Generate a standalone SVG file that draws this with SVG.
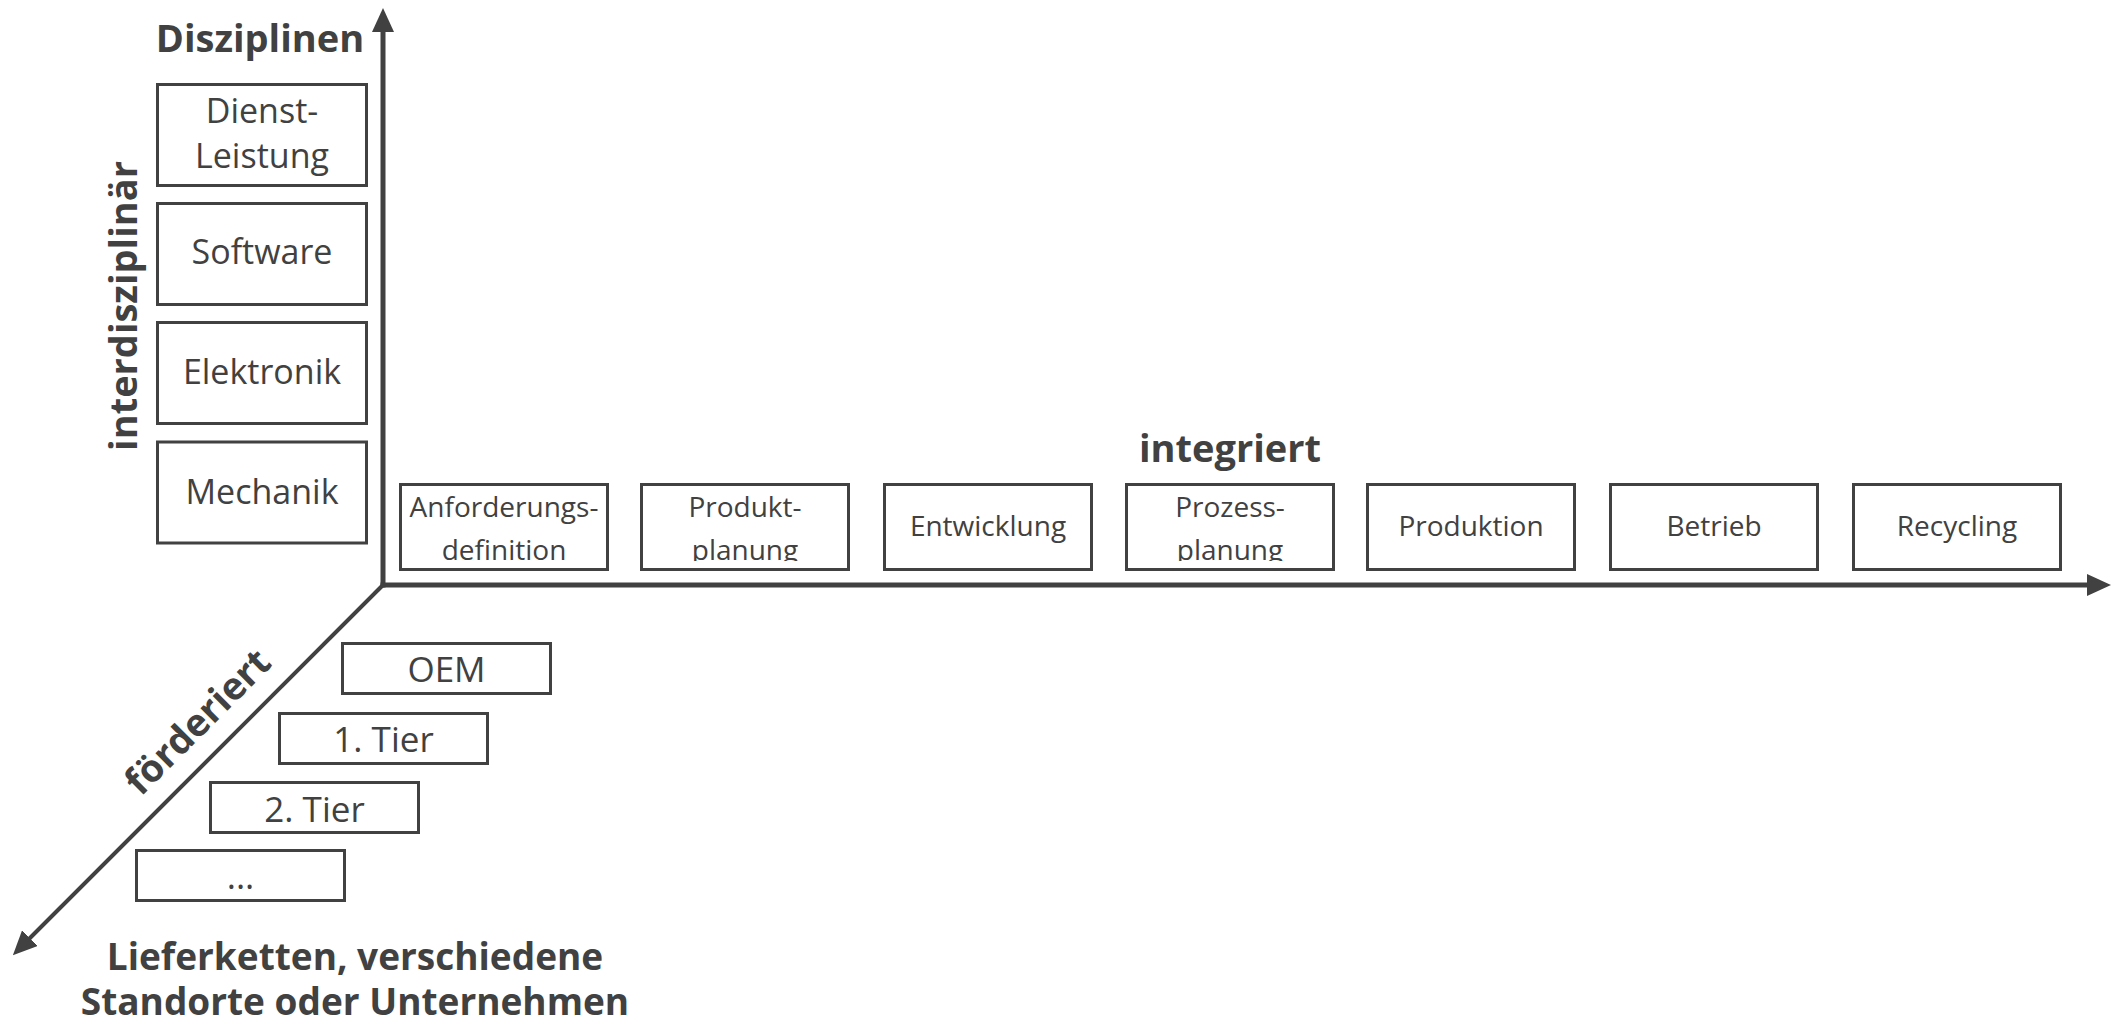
<svg xmlns="http://www.w3.org/2000/svg" width="2113" height="1021" viewBox="0 0 2113 1021">
  <style>
    .box { fill: #ffffff; stroke: #414141; stroke-width: 3; }
    .lbl { font-family: "Open Sans", "Liberation Sans", sans-serif; fill: #414141; text-anchor: middle; }
    .big { font-size: 34px; }
    .row { font-size: 28px; }
    .tier { font-size: 35px; }
    .bold { font-family: "Open Sans", "Liberation Sans", sans-serif; font-weight: bold; fill: #414141; text-anchor: middle; font-size: 38px; }
    .axis { stroke: #414141; fill: none; }
  </style>
  <defs>
    <marker id="arr" viewBox="0 0 24 22" markerWidth="24" markerHeight="22" refX="4" refY="11" orient="auto" markerUnits="userSpaceOnUse">
      <path d="M0,0 L24,11 L0,22 Z" fill="#414141"/>
    </marker>
    <clipPath id="rowclip">
      <rect x="380" y="486" width="1700" height="75"/>
    </clipPath>
  </defs>
  <rect width="2113" height="1021" fill="#ffffff"/>

  <g id="connectors">
    <line class="axis" x1="383" y1="587.5" x2="383" y2="28" stroke-width="5" marker-end="url(#arr)"/>
    <line class="axis" x1="380.5" y1="585" x2="2091" y2="585" stroke-width="5" marker-end="url(#arr)"/>
    <line class="axis" x1="384" y1="584" x2="27" y2="941" stroke-width="4" marker-end="url(#arr)"/>
  </g>

  <g id="axis-labels">
    <text class="bold" x="260" y="52">Disziplinen</text>
    <text class="bold" transform="translate(137,306) rotate(-90)">interdisziplinär</text>
    <text class="bold" x="1230" y="462">integriert</text>
    <text class="bold" transform="translate(207,731) rotate(-45)">förderiert</text>
    <text class="bold" style="font-size:37px" x="355" y="970">Lieferketten, verschiedene</text>
    <text class="bold" style="font-size:37px" x="355" y="1015">Standorte oder Unternehmen</text>
  </g>

  <g id="node-dienstleistung">
    <rect class="box" x="157.5" y="84.5" width="209" height="101"/>
    <text class="lbl big" x="262" y="123">Dienst-</text>
    <text class="lbl big" x="262" y="168">Leistung</text>
  </g>
  <g id="node-software">
    <rect class="box" x="157.5" y="203.5" width="209" height="101"/>
    <text class="lbl big" x="262" y="264">Software</text>
  </g>
  <g id="node-elektronik">
    <rect class="box" x="157.5" y="322.5" width="209" height="101"/>
    <text class="lbl big" x="262" y="384">Elektronik</text>
  </g>
  <g id="node-mechanik">
    <rect class="box" x="157.5" y="442" width="209" height="101"/>
    <text class="lbl big" x="262" y="504">Mechanik</text>
  </g>

  <g id="node-anforderungsdefinition">
    <rect class="box" x="400.5" y="484.5" width="207" height="85"/>
    <g clip-path="url(#rowclip)">
      <text class="lbl row" x="504" y="517">Anforderungs-</text>
      <text class="lbl row" x="504" y="560">definition</text>
    </g>
  </g>
  <g id="node-produktplanung">
    <rect class="box" x="641.5" y="484.5" width="207" height="85"/>
    <g clip-path="url(#rowclip)">
      <text class="lbl row" x="745" y="517">Produkt-</text>
      <text class="lbl row" x="745" y="560">planung</text>
    </g>
  </g>
  <g id="node-entwicklung">
    <rect class="box" x="884.5" y="484.5" width="207" height="85"/>
    <text class="lbl row" x="988" y="536">Entwicklung</text>
  </g>
  <g id="node-prozessplanung">
    <rect class="box" x="1126.5" y="484.5" width="207" height="85"/>
    <g clip-path="url(#rowclip)">
      <text class="lbl row" x="1230" y="517">Prozess-</text>
      <text class="lbl row" x="1230" y="560">planung</text>
    </g>
  </g>
  <g id="node-produktion">
    <rect class="box" x="1367.5" y="484.5" width="207" height="85"/>
    <text class="lbl row" x="1471" y="536">Produktion</text>
  </g>
  <g id="node-betrieb">
    <rect class="box" x="1610.5" y="484.5" width="207" height="85"/>
    <text class="lbl row" x="1714" y="536">Betrieb</text>
  </g>
  <g id="node-recycling">
    <rect class="box" x="1853.5" y="484.5" width="207" height="85"/>
    <text class="lbl row" x="1957" y="536">Recycling</text>
  </g>

  <g id="node-oem">
    <rect class="box" x="342.5" y="643.5" width="208" height="50"/>
    <text class="lbl tier" x="446.5" y="682">OEM</text>
  </g>
  <g id="node-tier1">
    <rect class="box" x="279.5" y="713.5" width="208" height="50"/>
    <text class="lbl tier" x="383.5" y="752">1. Tier</text>
  </g>
  <g id="node-tier2">
    <rect class="box" x="210.5" y="782.5" width="208" height="50"/>
    <text class="lbl tier" x="314.5" y="822">2. Tier</text>
  </g>
  <g id="node-more">
    <rect class="box" x="136.5" y="850.5" width="208" height="50"/>
    <text class="lbl tier" x="240.5" y="889">...</text>
  </g>
</svg>
